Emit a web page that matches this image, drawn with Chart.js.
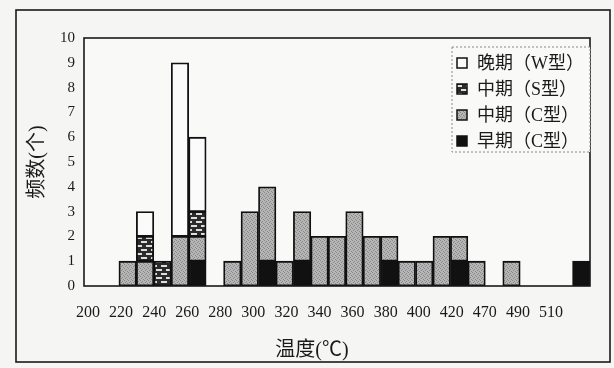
<!DOCTYPE html>
<html>
<head>
<meta charset="utf-8">
<script src="https://cdn.jsdelivr.net/npm/chart.js@4/dist/chart.umd.min.js"></script>
<style>
  html, body { margin: 0; padding: 0; background: #f5f5f3; }
  #wrap { width: 614px; height: 368px; position: relative; }
</style>
</head>
<body>
<div id="wrap"><canvas id="histChart" width="614" height="368"></canvas></div>
<script>
// temperature classes (one per bar) and the labels shown under the axis
var categories = ['200','210','220','230','240','250','260','270','280','290','300',
  '310','320','330','340','350','360','370','380','390','400','410','420','450',
  '470','480','490','500','510'];
var xTickLabels = ['200','220','240','260','280','300','320','340','360','380',
  '400','420','470','490','510'];

// counts per class, stacked bottom -> top
var earlyC = [0,0,0,0,0,0,1,0,0,0,1,0,1,0,0,0,0,1,0,0,0,1,0,0,0,0,0,0,1];
var midC   = [0,0,1,1,0,2,1,0,1,3,3,1,2,2,2,3,2,1,1,1,2,1,1,0,1,0,0,0,0];
var midS   = [0,0,0,1,1,0,1,0,0,0,0,0,0,0,0,0,0,0,0,0,0,0,0,0,0,0,0,0,0];
var lateW  = [0,0,0,1,0,7,3,0,0,0,0,0,0,0,0,0,0,0,0,0,0,0,0,0,0,0,0,0,0];

var yTicks = [0,1,2,3,4,5,6,7,8,9,10];

function makePattern(w, h, draw) {
  var c = document.createElement('canvas');
  c.width = w; c.height = h;
  var g = c.getContext('2d');
  draw(g);
  return document.getElementById('histChart').getContext('2d').createPattern(c, 'repeat');
}

// brick-like texture for 中期(S型)
var brick = makePattern(10, 8, function(g){
  g.fillStyle = '#2b2b2b';
  g.fillRect(0, 0, 10, 8);
  g.fillStyle = '#dedede';
  g.fillRect(1, 1, 6, 2);
  g.fillRect(6, 5, 6, 2);
  g.fillRect(-4, 5, 6, 2);
});
// stipple gray for 中期(C型)
var stipple = makePattern(4, 4, function(g){
  g.fillStyle = '#b6b6b6';
  g.fillRect(0, 0, 4, 4);
  g.fillStyle = '#888';
  g.fillRect(0, 0, 1, 1);
  g.fillRect(2, 1, 1, 1);
  g.fillRect(1, 2, 1, 1);
  g.fillRect(3, 3, 1, 1);
});

function nz(arr) { return arr.map(function(v){ return v === 0 ? null : v; }); }

var seriesDefs = [
  { label: '早期（C型）', data: earlyC, fill: '#111' },
  { label: '中期（C型）', data: midC, fill: stipple },
  { label: '中期（S型）', data: midS, fill: brick },
  { label: '晚期（W型）', data: lateW, fill: '#fbfbfb' }
];

var frame = {
  id: 'frame',
  beforeDraw: function(chart) {
    var ctx = chart.ctx, a = chart.chartArea;
    ctx.save();
    ctx.fillStyle = '#f9f9f8';
    ctx.fillRect(a.left, a.top, a.right - a.left, a.bottom - a.top);
    ctx.restore();
  },
  afterDraw: function(chart) {
    var ctx = chart.ctx, a = chart.chartArea;
    ctx.save();
    ctx.strokeStyle = '#1a1a1a';
    ctx.lineWidth = 1.6;
    ctx.strokeRect(a.left, a.top, a.right - a.left, a.bottom - a.top);
    ctx.strokeRect(16, 10, 594, 352);

    // legend inside the plot, top right
    var bx = a.left + 368, by = a.top + 9, bw = a.right - bx, bh = 105;
    ctx.fillStyle = '#f9f9f8';
    ctx.fillRect(bx, by, bw, bh);
    ctx.setLineDash([2, 2]);
    ctx.lineWidth = 1;
    ctx.strokeStyle = '#8a8a8a';
    ctx.strokeRect(bx, by, bw, bh);
    ctx.setLineDash([]);
    ctx.font = '18px "Liberation Serif", "Noto Sans CJK SC"';
    ctx.textBaseline = 'middle';
    ctx.textAlign = 'left';
    var ds = chart.data.datasets;
    for (var i = 0; i < ds.length; i++) {
      var d = ds[ds.length - 1 - i];
      var cy = by + 16 + i * 26;
      ctx.fillStyle = d.backgroundColor;
      ctx.fillRect(bx + 5, cy - 5, 10, 10);
      ctx.lineWidth = 1.5;
      ctx.strokeStyle = '#111';
      ctx.strokeRect(bx + 5, cy - 5, 10, 10);
      ctx.fillStyle = '#1a1a1a';
      ctx.fillText(d.label, bx + 25, cy + 1);
    }
    ctx.restore();
  }
};

var ctx = document.getElementById('histChart').getContext('2d');
var histChart = new Chart(ctx, {
  type: 'bar',
  data: {
    labels: categories,
    datasets: seriesDefs.map(function(s){
      return {
        label: s.label,
        data: nz(s.data),
        backgroundColor: s.fill,
        borderColor: '#111',
        borderWidth: 1.8,
        borderSkipped: false,
        barPercentage: 1,
        categoryPercentage: 1
      };
    })
  },
  options: {
    responsive: false,
    animation: false,
    layout: { padding: { left: 10, right: 0, top: 38, bottom: 0 } },
    plugins: {
      legend: { display: false },
      tooltip: { enabled: false },
      title: {
        display: true,
        position: 'bottom',
        text: '温度(℃)',
        color: '#1a1a1a',
        font: { family: '"Liberation Serif", "Noto Sans CJK SC"', size: 20, weight: 'normal' },
        padding: { top: 0, bottom: 5 }
      }
    },
    scales: {
      x: { stacked: true, display: false },
      x2: {
        type: 'linear',
        position: 'bottom',
        offset: false,
        min: -0.121,
        max: 15.18,
        grid: { display: false, drawTicks: false, offset: false },
        border: { display: false },
        afterBuildTicks: function(axis) {
          axis.ticks = xTickLabels.map(function(_, i){ return { value: i }; });
        },
        afterFit: function(scale) { scale.height = 53; },
        ticks: {
          autoSkip: false,
          maxRotation: 0,
          padding: 17,
          color: '#1a1a1a',
          font: { family: '"Liberation Serif"', size: 16 },
          callback: function(v) { return xTickLabels[v]; }
        }
      },
      y: {
        stacked: true,
        min: 0,
        max: 10,
        grid: { display: false, drawTicks: false },
        border: { display: false },
        afterBuildTicks: function(axis) {
          axis.ticks = yTicks.map(function(v){ return { value: v }; });
        },
        afterFit: function(scale) { scale.width = 74; },
        ticks: {
          padding: 9,
          color: '#1a1a1a',
          font: { family: '"Liberation Serif"', size: 15 }
        },
        title: {
          display: true,
          text: '频数(个)',
          color: '#1a1a1a',
          font: { family: '"Liberation Serif", "Noto Sans CJK SC"', size: 20 },
          padding: { top: 16, bottom: 0 }
        }
      },
      // empty right-hand strip so the plot ends where the original does
      yRight: {
        position: 'right',
        min: 0,
        max: 10,
        grid: { display: false, drawTicks: false },
        border: { display: false },
        ticks: { display: false },
        afterFit: function(scale) { scale.width = 24; }
      }
    }
  },
  plugins: [frame]
});
</script>
</body>
</html>
